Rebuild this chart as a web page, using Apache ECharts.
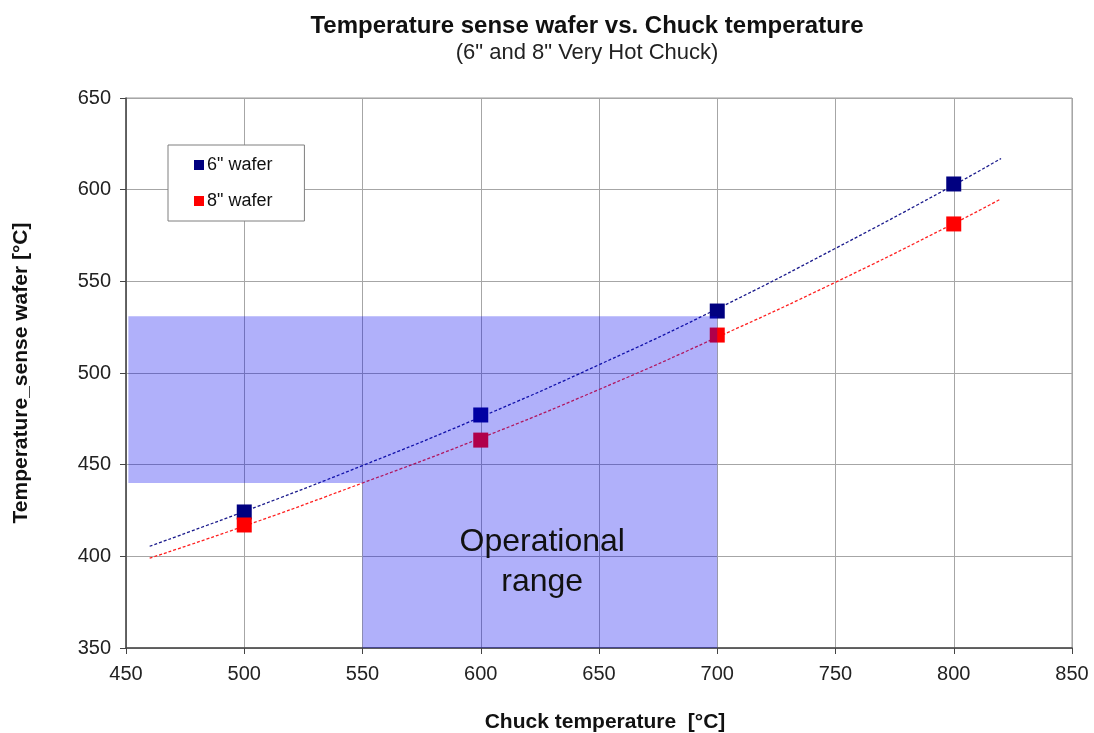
<!DOCTYPE html>
<html>
<head>
<meta charset="utf-8">
<title>Temperature sense wafer vs. Chuck temperature</title>
<script src="https://cdn.jsdelivr.net/npm/echarts@6/dist/echarts.min.js"></script>
<style>
  html, body { margin: 0; padding: 0; background: #ffffff; }
  #chart { width: 1094px; height: 733px; }
</style>
</head>
<body>
<div id="chart"></div>
<script>
// Measured points: chuck set-point vs. temperature read by the sense wafer
var chuckTemps = [500, 600, 700, 800];
var wafer6 = [424.2, 477.1, 533.8, 603.1];
var wafer8 = [417.1, 463.4, 520.7, 581.3];

// Trend curves through the measurements
var trendTemps = [460, 500, 550, 600, 650, 700, 750, 800, 820];
var trend6 = [405.5, 424.5, 449.5, 476, 504.5, 535, 568, 602.5, 617];
var trend8 = [399, 416.5, 440, 464.5, 491, 519.5, 549.5, 581.5, 595];

// Operational range (two non-overlapping blocks): [xFrom, xTo, yFrom, yTo]
var rangeBlocks = [
  [451, 700, 440, 531],
  [550, 700, 350, 440]
];
var rangeLabel = 'Operational\nrange';
var rangeLabelPos = [626, 397];

// Axis ticks
var xTicks = { min: 450, max: 850, step: 50 };
var yTicks = { min: 350, max: 650, step: 50 };

var FONT = "'Liberation Sans', Arial, sans-serif";

function pairs(xs, ys) {
  return xs.map(function (x, i) { return [x, ys[i]]; });
}

var chart = echarts.init(document.getElementById('chart'), null, { renderer: 'canvas' });

var option = {
  backgroundColor: '#ffffff',
  animation: false,
  title: [
    {
      text: 'Temperature sense wafer vs. Chuck temperature',
      left: 582, top: 9, textAlign: 'center',
      textStyle: { fontFamily: FONT, fontSize: 24, fontWeight: 'bold', color: '#111111' }
    },
    {
      text: '(6" and 8" Very Hot Chuck)',
      left: 582, top: 37, textAlign: 'center',
      textStyle: { fontFamily: FONT, fontSize: 22, fontWeight: 'normal', color: '#222222' }
    }
  ],
  legend: {
    data: ['6" wafer', '8" wafer'],
    orient: 'vertical',
    left: 168, top: 145,
    padding: [11, 32, 11, 26],
    itemGap: 18,
    itemWidth: 10, itemHeight: 10,
    icon: 'rect',
    backgroundColor: '#ffffff',
    borderColor: '#7f7f7f',
    borderWidth: 1,
    textStyle: { fontFamily: FONT, fontSize: 18, color: '#111111', padding: [0, 0, 0, -2] }
  },
  grid: {
    left: 126, right: 22, top: 98, bottom: 85,
    outerBoundsMode: 'none',
    containLabel: false,
    show: true, borderColor: '#9a9a9a', borderWidth: 1, backgroundColor: 'transparent'
  },
  xAxis: {
    type: 'value',
    min: xTicks.min, max: xTicks.max, interval: xTicks.step,
    name: 'Chuck temperature  [°C]',
    nameLocation: 'middle', nameGap: 64,
    nameTextStyle: { fontFamily: FONT, fontSize: 21, fontWeight: 'bold', color: '#111111', padding: [0, 0, 0, 12] },
    axisLine: { show: true, onZero: false, lineStyle: { color: '#444444', width: 1.5 } },
    axisTick: { show: true, inside: false, length: 6, lineStyle: { color: '#444444' } },
    axisLabel: { fontFamily: FONT, fontSize: 20, color: '#222222', margin: 16 },
    splitLine: { show: true, lineStyle: { color: '#a6a6a6', width: 1 } }
  },
  yAxis: {
    type: 'value',
    min: yTicks.min, max: yTicks.max, interval: yTicks.step,
    name: 'Temperature_sense wafer [°C]',
    nameLocation: 'middle', nameGap: 94, nameRotate: 90,
    nameTextStyle: { fontFamily: FONT, fontSize: 21, fontWeight: 'bold', color: '#111111' },
    axisLine: { show: true, onZero: false, lineStyle: { color: '#444444', width: 1.5 } },
    axisTick: { show: true, inside: false, length: 6, lineStyle: { color: '#444444' } },
    axisLabel: { fontFamily: FONT, fontSize: 20, color: '#222222', margin: 15, padding: [5, 0, 0, 0] },
    splitLine: { show: true, lineStyle: { color: '#a6a6a6', width: 1 } }
  },
  series: [
    {
      name: 'trend6',
      type: 'line',
      data: pairs(trendTemps, trend6),
      smooth: true,
      showSymbol: false,
      silent: true,
      z: 2,
      lineStyle: { color: '#1a1a8c', width: 1.3, type: [3, 2] }
    },
    {
      name: 'trend8',
      type: 'line',
      data: pairs(trendTemps, trend8),
      smooth: true,
      showSymbol: false,
      silent: true,
      z: 2,
      lineStyle: { color: '#ff2020', width: 1.3, type: [3, 2] }
    },
    {
      name: '6" wafer',
      type: 'scatter',
      data: pairs(chuckTemps, wafer6),
      symbol: 'rect',
      symbolSize: 15,
      z: 3,
      itemStyle: { color: '#000080', opacity: 1 }
    },
    {
      name: '8" wafer',
      type: 'scatter',
      data: pairs(chuckTemps, wafer8),
      symbol: 'rect',
      symbolSize: 15,
      z: 4,
      itemStyle: { color: '#ff0000', opacity: 1 }
    },
    {
      // translucent operational-range block drawn over the data
      name: 'range',
      type: 'custom',
      z: 6,
      silent: true,
      data: rangeBlocks,
      encode: { x: [0, 1], y: [2, 3] },
      renderItem: function (params, api) {
        var p0 = api.coord([api.value(0), api.value(3)]);
        var p1 = api.coord([api.value(1), api.value(2)]);
        var children = [{
          type: 'rect',
          shape: { x: p0[0], y: p0[1], width: p1[0] - p0[0], height: p1[1] - p0[1] },
          style: { fill: 'rgba(0, 0, 238, 0.31)' }
        }];
        if (params.dataIndex === rangeBlocks.length - 1) {
          var c = api.coord(rangeLabelPos);
          children.push({
            type: 'text',
            x: c[0], y: c[1],
            z2: 10,
            style: {
              text: rangeLabel,
              fontFamily: FONT, fontSize: 32, fill: '#111111',
              align: 'center', verticalAlign: 'middle', lineHeight: 40
            }
          });
        }
        return { type: 'group', children: children };
      }
    }
  ]
};

chart.setOption(option);
</script>
</body>
</html>
